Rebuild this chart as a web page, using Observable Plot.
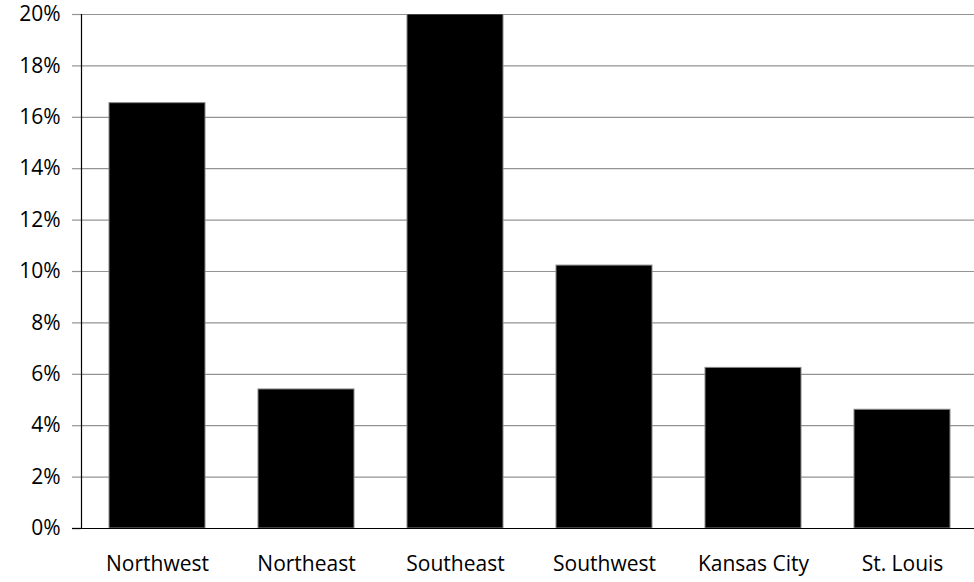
<!DOCTYPE html>
<html>
<head>
<meta charset="utf-8">
<script src="https://cdn.jsdelivr.net/npm/d3@7"></script>
<script src="https://cdn.jsdelivr.net/npm/@observablehq/plot@0.6"></script>
<style>
  html, body { margin: 0; padding: 0; background: #fff; overflow: hidden; }
  #chart svg { display: block; }
</style>
</head>
<body>
<div id="chart"></div>
<script>
const regions = ["Northwest", "Northeast", "Southeast", "Southwest", "Kansas City", "St. Louis"];
const values = [16.55, 5.41, 20.0, 10.23, 6.25, 4.62];
const yTicks = [0, 2, 4, 6, 8, 10, 12, 14, 16, 18, 20];

const data = regions.map((r, i) => ({region: r, value: values[i]}));

const chart = Plot.plot({
  width: 974,
  height: 582,
  marginTop: 14,
  marginBottom: 54,
  marginLeft: 81,
  marginRight: 0,
  style: {fontFamily: "'Open Sans', sans-serif", fontSize: "21px", color: "#000", background: "#fff"},
  x: {domain: regions, range: [79.5, 979.5], paddingInner: 0.353, paddingOuter: 0.1767, label: null},
  y: {domain: [0, 20], label: null},
  marks: [
    Plot.gridY({ticks: yTicks.filter(d => d > 0), stroke: "#939393", strokeOpacity: 1, strokeWidth: 1.2}),
    Plot.axisY({ticks: yTicks, tickFormat: d => d + "%", tickSize: 9, tickPadding: 12, fontSize: 21, stroke: "#939393", strokeOpacity: 1, strokeWidth: 1.2}),
    Plot.barY(data, {x: "region", y: "value", fill: "#000", stroke: "#888", strokeWidth: 1, clip: true}),
    Plot.axisX({tickSize: 0, tickPadding: 28, fontSize: 21}),
    Plot.frame({anchor: "left", stroke: "#000", strokeWidth: 1.2}),
    Plot.axisY({ticks: [0], tickFormat: () => "", tickSize: 9, stroke: "#000", strokeWidth: 1.2}),
    Plot.frame({anchor: "bottom", stroke: "#000", strokeWidth: 1.2})
  ]
});
document.getElementById("chart").appendChild(chart);
</script>
</body>
</html>
